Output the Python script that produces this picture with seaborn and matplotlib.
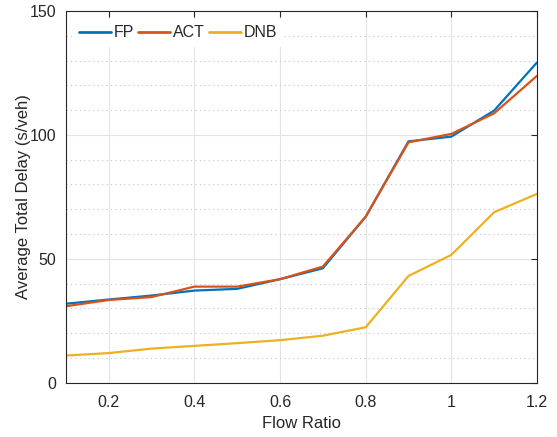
import numpy as np
import pandas as pd
import matplotlib
matplotlib.use('Agg')
import matplotlib.pyplot as plt
import seaborn as sns
from matplotlib.ticker import MultipleLocator

# data
flow_ratio = [0.1, 0.2, 0.3, 0.4, 0.5, 0.6, 0.7, 0.8, 0.9, 1.0, 1.1, 1.2]
fp = [31.9, 33.6, 35.2, 37.2, 37.9, 41.8, 46.2, 67.0, 97.4, 99.3, 109.8, 129.2]
act = [30.9, 33.4, 34.6, 38.8, 38.8, 41.8, 46.9, 67.0, 97.0, 100.4, 108.7, 123.8]
dnb = [11.0, 12.0, 13.8, 14.9, 16.0, 17.2, 19.0, 22.4, 43.1, 51.6, 68.8, 76.2]

series_names = ['FP', 'ACT', 'DNB']
colors = {'FP': '#0072BD', 'ACT': '#D95319', 'DNB': '#EDB120'}

df = pd.DataFrame({
    'Flow Ratio': flow_ratio * 3,
    'Delay': fp + act + dnb,
    'Method': ['FP'] * 12 + ['ACT'] * 12 + ['DNB'] * 12,
})

sns.set_style('white')
plt.rcParams['font.family'] = ['Liberation Sans', 'DejaVu Sans']

fig, ax = plt.subplots(figsize=(5.57, 4.37), dpi=100)
fig.subplots_adjust(left=0.1185, right=0.964, top=0.975, bottom=0.124)

sns.lineplot(data=df, x='Flow Ratio', y='Delay', hue='Method', hue_order=series_names,
             palette=colors, linewidth=1.6, ax=ax)

ax.set_xlim(0.1, 1.2)
ax.set_ylim(0, 150)
ax.set_xticks([0.2, 0.4, 0.6, 0.8, 1.0, 1.2])
ax.set_xticklabels(['0.2', '0.4', '0.6', '0.8', '1', '1.2'])
ax.yaxis.set_major_locator(MultipleLocator(50))
ax.yaxis.set_minor_locator(MultipleLocator(10))

ax.set_axisbelow(True)
ax.grid(which='major', color='#e3e3e3', linewidth=0.8)
ax.yaxis.grid(True, which='minor', color='#c4c4c4', linewidth=0.8, linestyle=(0, (1, 3)))

for s in ax.spines.values():
    s.set_color('#262626')
    s.set_linewidth(0.8)
ax.tick_params(which='major', direction='in', length=4, width=0.8, top=True, right=True,
               labelsize=11.5, colors='#262626')
ax.tick_params(axis='x', which='major', pad=9)
ax.tick_params(axis='y', which='major', pad=7)
ax.tick_params(which='minor', length=0)

ax.set_xlabel('Flow Ratio', fontsize=12, color='#262626')
ax.set_ylabel('Average Total Delay (s/veh)', fontsize=12, color='#262626')
ax.xaxis.set_label_coords(0.5, -0.09)
ax.yaxis.set_label_coords(-0.075, 0.5)

leg = ax.legend(loc='upper left', ncol=3, frameon=True, fontsize=11.5,
                handlelength=2.0, handletextpad=0.15, columnspacing=0.3,
                borderaxespad=0.5, bbox_to_anchor=(-0.003, 1.0))
leg.get_frame().set_edgecolor('none')
leg.get_frame().set_facecolor('white')
leg.get_frame().set_alpha(1)
for line in leg.get_lines():
    line.set_linewidth(2)

fig.savefig('out.png', dpi=100)
